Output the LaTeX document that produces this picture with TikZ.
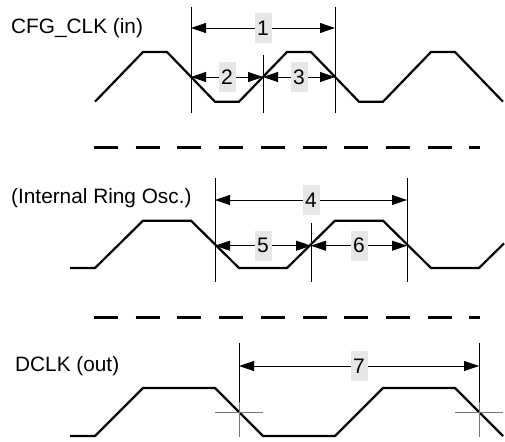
\documentclass[tikz,border=0pt]{standalone}
\usepackage{fontspec}
\setmainfont{Liberation Sans}
\usetikzlibrary{calc,arrows.meta}
\definecolor[named]{myBoxGray}{RGB}{230,230,230}
\definecolor[named]{myCrossGray}{RGB}{120,120,120}

\begin{document}
\begin{tikzpicture}
[%
    x=1pt, y=-1pt,
    wave/.style={
      line width=2.2pt,
      line join=miter
    },
    separator/.style={
      line width=3pt,
      dash pattern=on 24pt off 17.7pt
    },
    edge/.style={
      line width=0.8pt
    },
    cross/.style={
      line width=0.8pt,
      draw=myCrossGray
    },
    dim/.style={
      line width=0.8pt,
      {Triangle[length=15pt,width=10pt]}-{Triangle[length=15pt,width=10pt]}
    },
    period/.style={
      fill=myBoxGray,
      inner sep=0pt,
      minimum width=17pt,
      minimum height=30pt,
      font=\fontsize{21}{25}\selectfont
    },
    signal/.style={
      anchor=west,
      inner sep=0pt,
      font=\fontsize{20.8}{25}\selectfont
    }
  ]
  \useasboundingbox (0,0) rectangle (505,441);

  %CFG_CLK
    \node[signal] (cfg) at (11,28) {CFG\_CLK (in)};
    \draw[wave] (95,101.7) -- (143,52) -- (167,52) -- (215,101.7) -- (239,101.7) -- (287,52)
      -- (311,52) -- (359,101.7) -- (383,101.7) -- (431,52) -- (455,52) -- (503,101.7);
    \draw[edge] (191,7) -- (191,113);
    \draw[edge] (263,55) -- (263,113);
    \draw[edge] (335,7) -- (335,113);
    \coordinate (A1) at (191,28);
    \coordinate (B1) at (335,28);
    \coordinate (A2) at (191,77);
    \coordinate (B2) at (263,77);
    \coordinate (B3) at (335,77);
    \draw[dim] (A1) -- (B1);
    \draw[dim] (A2) -- (B2);
    \draw[dim] (B2) -- (B3);
    \node[period] (P1) at ($(A1)!0.5!(B1)$) {1};
    \node[period] (P2) at ($(A2)!0.5!(B2)$) {2};
    \node[period] (P3) at ($(B2)!0.5!(B3)$) {3};

    \draw[separator] (94,147) -- (480,147);

  %Internal ring oscillator
    \node[signal] (osc) at (11,198) {(Internal Ring Osc.)};
    \draw[wave] (70,268) -- (95,268) -- (143,220.7) -- (191,220.7) -- (239,268) -- (287,268)
      -- (335,220.7) -- (383,220.7) -- (431,268) -- (479,268) -- (504,243.4);
    \draw[edge] (215,178) -- (215,282);
    \draw[edge] (311,223) -- (311,282);
    \draw[edge] (407,178) -- (407,282);
    \coordinate (A4) at (215,200);
    \coordinate (B4) at (407,200);
    \coordinate (A5) at (215,245.7);
    \coordinate (B5) at (311,245.7);
    \coordinate (B6) at (407,245.7);
    \draw[dim] (A4) -- (B4);
    \draw[dim] (A5) -- (B5);
    \draw[dim] (B5) -- (B6);
    \node[period] (P4) at ($(A4)!0.5!(B4)$) {4};
    \node[period] (P5) at ($(A5)!0.5!(B5)$) {5};
    \node[period] (P6) at ($(B5)!0.5!(B6)$) {6};

    \draw[separator] (94,317) -- (480,317);

  %DCLK
    \node[signal] (dclk) at (15,366) {DCLK (out)};
    \draw[wave] (70,436) -- (95,436) -- (143,388) -- (215,388) -- (263,436) -- (335,436)
      -- (383,388) -- (455,388) -- (503,436);
    \draw[edge] (239,343) -- (239,402);
    \draw[edge] (479,343) -- (479,402);
    \draw[cross] (239,402) -- (239,437) (215,412.5) -- (263,412.5);
    \draw[cross] (479,402) -- (479,437) (455,412.5) -- (503,412.5);
    \coordinate (A7) at (239,366);
    \coordinate (B7) at (479,366);
    \draw[dim] (A7) -- (B7);
    \node[period] (P7) at ($(A7)!0.5!(B7)$) {7};

\end{tikzpicture}
\end{document}
